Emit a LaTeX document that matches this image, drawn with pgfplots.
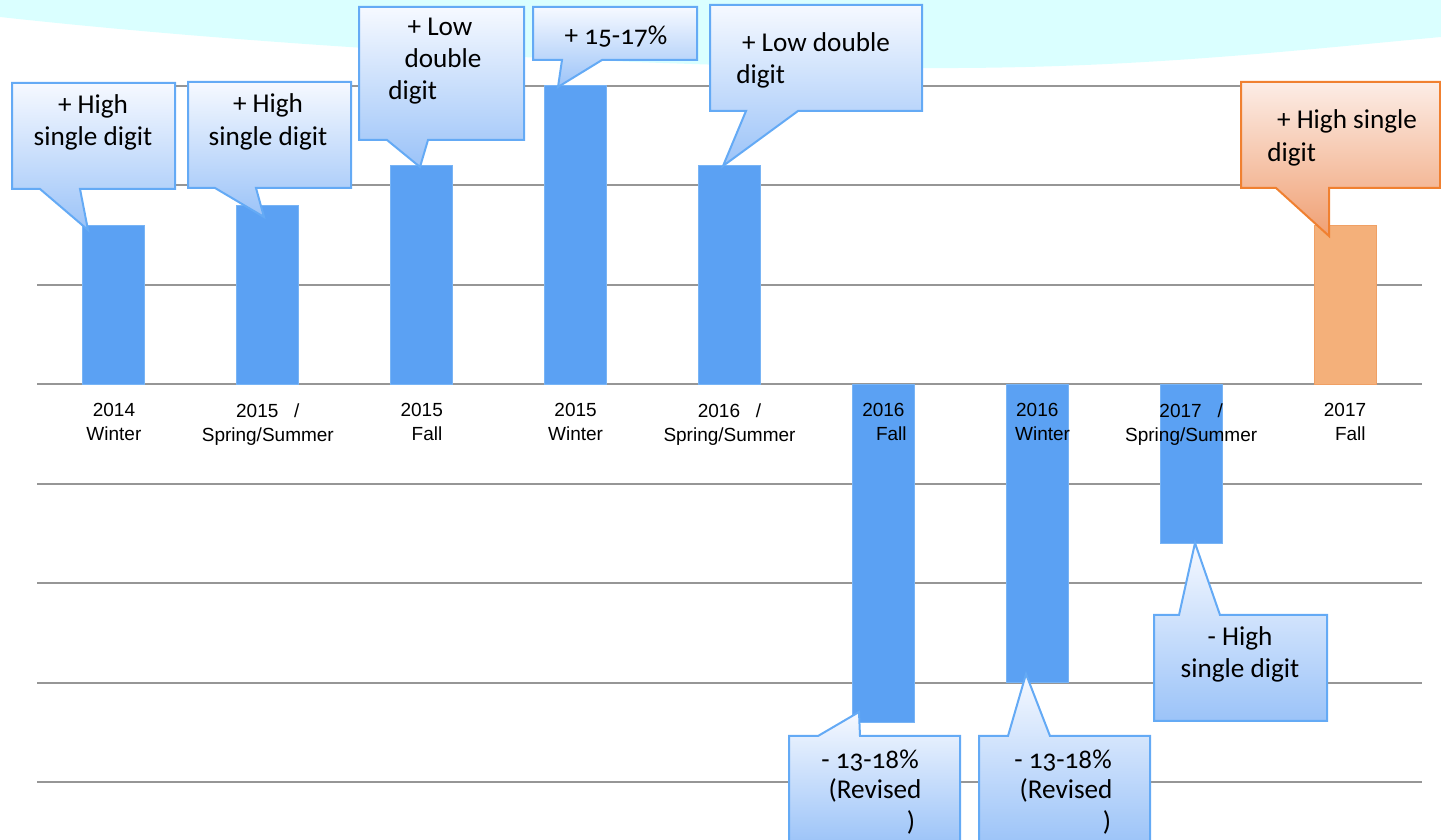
\documentclass[border=0pt]{standalone}
\usepackage{pgfplots}
\pgfplotsset{compat=1.18}
\usepackage{fontspec}
\setmainfont[Numbers=OldStyle]{Carlito}
\newfontfamily\tickfont{Liberation Sans}
\definecolor{barblue}{RGB}{91,161,243}
\definecolor{barblueedge}{RGB}{120,180,245}
\definecolor{barorange}{RGB}{244,176,122}
\definecolor{barorangeedge}{RGB}{240,160,100}
\definecolor{gridgray}{RGB}{150,150,150}
\definecolor{cyanbg}{RGB}{218,255,255}
\definecolor{cborder}{RGB}{100,170,245}
\definecolor{ctop}{RGB}{246,249,255}
\definecolor{cbot}{RGB}{155,195,248}
\definecolor{oborder}{RGB}{240,128,48}
\definecolor{otop}{RGB}{252,237,230}
\definecolor{obot}{RGB}{240,160,115}
\pgfplotsset{
  commonaxis/.style={
    at={(18.5pt,29pt)}, anchor=south west,
    scale only axis, width=692.5pt, height=348pt,
    xmin=-0.5, xmax=8.5, ymin=-20, ymax=15,
    axis x line=middle, axis y line=left,
    y axis line style={draw=none},
    hide obscured x ticks=false,
    major tick length=0pt,
    xtick={0,1,2,3,4,5,6,7,8},
    clip=false,
  },
}
\tikzset{
  callout/.style={draw=cborder, line width=1pt, top color=ctop, bottom color=cbot},
  ocallout/.style={draw=oborder, line width=1pt, top color=otop, bottom color=obot},
  ctext/.style={anchor=base, inner sep=0pt, font=\fontsize{13.6}{16}\selectfont},
  ctextw/.style={anchor=base west, inner sep=0pt, font=\fontsize{13.6}{16}\selectfont},
}
\begin{document}
\begin{tikzpicture}
\path[use as bounding box] (0,0) rectangle (720.5pt,420pt);
\begin{scope}[x=0.5pt,y=0.5pt]
\fill[cyanbg] (0,840) -- (1441,840) -- (1441,803)
  .. controls (1300,790) and (1150,773) .. (960,772)
  .. controls (700,770) and (300,790) .. (0,823) -- cycle;
\end{scope}
% bars and grid
\begin{axis}[
  commonaxis,
  x axis line style={-, draw=gridgray, line width=1pt},
  ymajorgrids, ytick={-20,-15,...,15}, yticklabels={},
  major grid style={draw=gridgray, line width=1pt},
  xticklabels={},
  ybar, bar width=31pt, bar shift=0pt,
]
\addplot[fill=barblue, draw=barblueedge, line width=0.5pt] coordinates {
  (0,8) (1,9) (2,11) (3,15) (4,11) (5,-17) (6,-15) (7,-8)
};
\addplot[fill=barorange, draw=barorangeedge, line width=0.5pt] coordinates {
  (8,8)
};
\end{axis}
% category labels drawn on top of the bars
\begin{axis}[
  commonaxis,
  x axis line style={draw=none},
  ytick=\empty,
  xticklabels={{2014\\Winter},{2015 \ \ /\\Spring/Summer},{2015\\\ \ Fall},{2015\\Winter},{2016 \ \ /\\Spring/Summer},{2016\\\ \ \ Fall},{2016\\\ \ Winter},{2017 \ \ /\\Spring/Summer},{2017\\\ \ Fall}},
  xticklabel style={align=center, font=\tickfont\fontsize{9.5}{12}\selectfont, yshift=-6pt},
]
\end{axis}
\begin{scope}[x=0.5pt,y=0.5pt]
% callout 1
\path[callout] (12,757) -- (175,757) -- (175,651) -- (80,651) -- (88,610) -- (40,651) -- (12,651) -- cycle;
\node[ctext] at (93,726) {+ High};
\node[ctext] at (93,694) {single digit};
% callout 2
\path[callout] (188,758) -- (351,758) -- (351,652) -- (256,652) -- (264,623) -- (215,652) -- (188,652) -- cycle;
\node[ctext] at (268,727) {+ High};
\node[ctext] at (268,694) {single digit};
% callout 3
\path[callout] (359,833) -- (524,833) -- (524,700) -- (428,700) -- (420,673) -- (387,700) -- (359,700) -- cycle;
\node[ctext] at (440,804) {+ Low};
\node[ctext] at (443,772) {double};
\node[ctextw] at (388,740) {digit};
% callout 4
\path[callout] (533,833) -- (697,833) -- (697,780) -- (602,780) -- (558,753) -- (562,780) -- (533,780) -- cycle;
\node[ctext] at (616,795) {+ 15-17\%};
% callout 5
\path[callout] (710,835) -- (922,835) -- (922,729) -- (798,729) -- (723,674) -- (746,729) -- (710,729) -- cycle;
\node[ctext] at (816,788) {+ Low double};
\node[ctextw] at (736,756) {digit};
% callout 6 (orange)
\path[ocallout] (1241,758) -- (1440,758) -- (1440,652) -- (1329,652) -- (1329,604) -- (1276,652) -- (1241,652) -- cycle;
\node[ctext] at (1347,711) {+ High single};
\node[ctextw] at (1267,678) {digit};
% callout 7
\path[callout] (789,104) -- (818,104) -- (859,128) -- (860,104) -- (960,104) -- (960,-5) -- (789,-5) -- cycle;
\node[ctext] at (870,71) {- 13-18\%};
\node[ctext] at (875,41) {(Revised};
\node[ctext] at (911,9) {)};
% callout 8
\path[callout] (979,104) -- (1008,104) -- (1026,166) -- (1050,104) -- (1150,104) -- (1150,-5) -- (979,-5) -- cycle;
\node[ctext] at (1063,71) {- 13-18\%};
\node[ctext] at (1066,41) {(Revised};
\node[ctext] at (1107,9) {)};
% callout 9
\path[callout] (1154,225) -- (1179,225) -- (1195,297) -- (1220,225) -- (1327,225) -- (1327,119) -- (1154,119) -- cycle;
\node[ctext] at (1240,194) {- High};
\node[ctext] at (1240,162) {single digit};
\end{scope}
\end{tikzpicture}
\end{document}
